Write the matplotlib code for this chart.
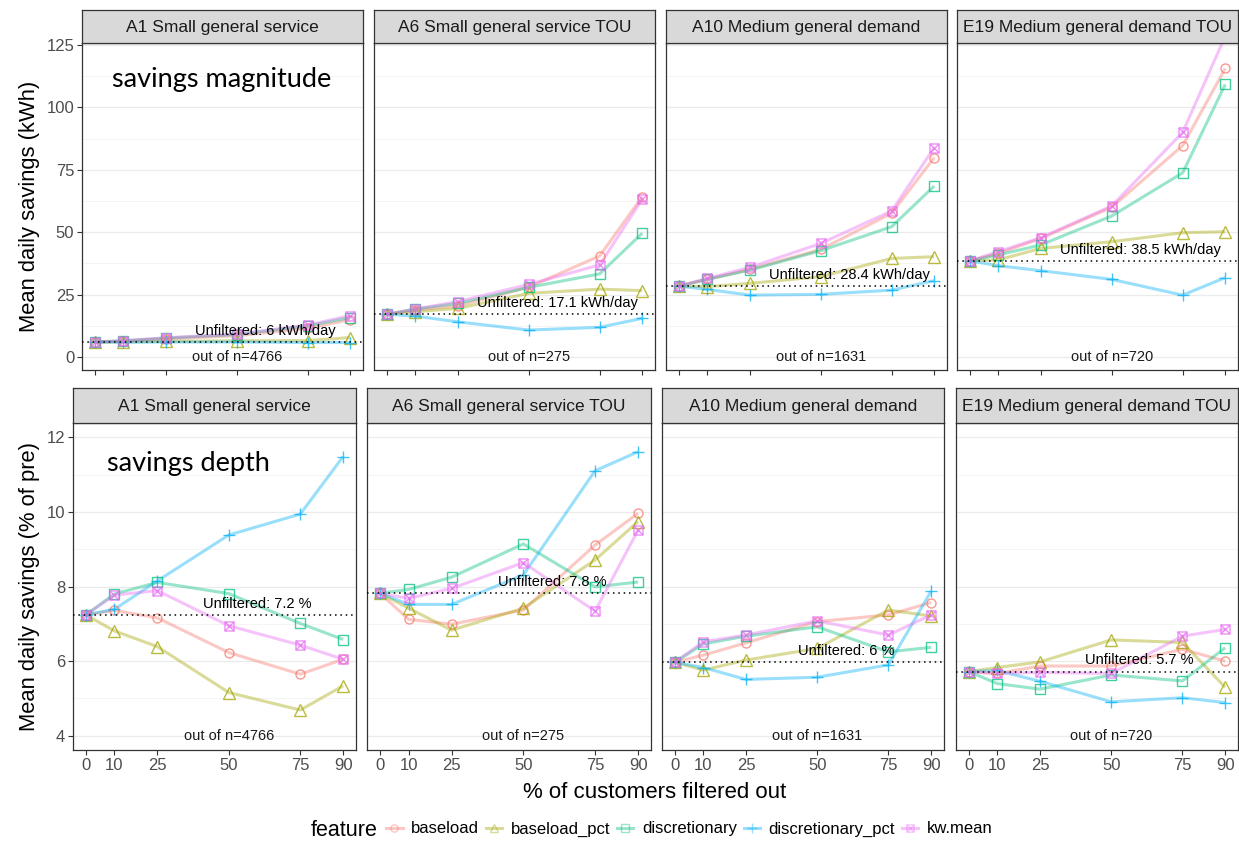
import numpy as np
import matplotlib
matplotlib.use("Agg")
import matplotlib.pyplot as plt
from matplotlib.path import Path
from matplotlib.lines import Line2D

# ---- data ----
pct = [0, 10, 25, 50, 75, 90]
tariffs = ['A1 Small general service', 'A6 Small general service TOU',
           'A10 Medium general demand', 'E19 Medium general demand TOU']
n_customers = [4766, 275, 1631, 720]
features = ['baseload', 'baseload_pct', 'discretionary', 'discretionary_pct', 'kw.mean']

mag_unfiltered = [6.0, 17.1, 28.4, 38.5]
depth_unfiltered = [7.24, 7.82, 5.97, 5.72]

# savings magnitude (kWh/day), one row per tariff
mag_baseload = [
    [6.0, 6.3, 7.3, 8.5, 11.5, 15.0],
    [17.1, 18.8, 20.5, 28.0, 40.5, 64.2],
    [28.4, 31.1, 35.1, 43.1, 57.6, 79.9],
    [38.5, 41.5, 47.5, 60.0, 84.7, 115.6]]
mag_baseload_pct = [
    [6.0, 6.1, 6.3, 6.5, 6.6, 7.8],
    [17.1, 18.1, 19.5, 25.5, 27.2, 26.6],
    [28.4, 28.2, 29.5, 32.2, 39.5, 40.2],
    [38.5, 38.9, 43.5, 46.2, 49.8, 50.2]]
mag_discretionary = [
    [6.0, 6.5, 7.6, 9.0, 12.5, 15.8],
    [17.1, 19.2, 21.5, 27.9, 33.3, 49.6],
    [28.4, 31.1, 34.8, 42.6, 52.2, 68.5],
    [38.5, 40.9, 44.9, 56.5, 73.8, 109.2]]
mag_discretionary_pct = [
    [6.0, 5.9, 6.0, 6.0, 5.8, 5.8],
    [17.1, 16.4, 14.1, 10.8, 11.9, 15.5],
    [28.4, 27.1, 24.8, 25.1, 26.8, 30.6],
    [38.5, 36.6, 34.6, 31.1, 24.8, 31.8]]
mag_kw_mean = [
    [6.0, 6.5, 7.7, 9.2, 12.8, 16.6],
    [17.1, 19.2, 22.2, 29.1, 36.9, 63.2],
    [28.4, 31.5, 35.9, 45.5, 58.5, 83.9],
    [38.5, 42.2, 47.8, 60.5, 90.0, 128.5]]

# savings depth (% of pre)
dep_baseload = [
    [7.24, 7.36, 7.16, 6.23, 5.65, 6.05],
    [7.82, 7.12, 6.99, 7.37, 9.11, 9.96],
    [5.97, 6.16, 6.49, 7.06, 7.24, 7.57],
    [5.72, 5.67, 5.87, 5.87, 6.32, 6.00]]
dep_baseload_pct = [
    [7.24, 6.81, 6.39, 5.16, 4.69, 5.34],
    [7.82, 7.42, 6.83, 7.42, 8.71, 9.74],
    [5.97, 5.76, 6.03, 6.34, 7.37, 7.21],
    [5.72, 5.83, 5.98, 6.57, 6.50, 5.30]]
dep_discretionary = [
    [7.24, 7.80, 8.11, 7.81, 7.01, 6.58],
    [7.82, 7.92, 8.25, 9.14, 7.99, 8.12],
    [5.97, 6.46, 6.67, 6.92, 6.25, 6.37],
    [5.72, 5.40, 5.25, 5.63, 5.47, 6.36]]
dep_discretionary_pct = [
    [7.24, 7.39, 8.15, 9.38, 9.94, 11.48],
    [7.82, 7.52, 7.52, 8.31, 11.10, 11.61],
    [5.97, 5.83, 5.51, 5.57, 5.90, 7.88],
    [5.72, 5.75, 5.46, 4.91, 5.02, 4.89]]
dep_kw_mean = [
    [7.24, 7.77, 7.89, 6.95, 6.43, 6.05],
    [7.82, 7.68, 7.95, 8.64, 7.34, 9.51],
    [5.97, 6.52, 6.70, 7.08, 6.70, 7.24],
    [5.72, 5.67, 5.70, 5.67, 6.67, 6.85]]

mag_series = [mag_baseload, mag_baseload_pct, mag_discretionary, mag_discretionary_pct, mag_kw_mean]
dep_series = [dep_baseload, dep_baseload_pct, dep_discretionary, dep_discretionary_pct, dep_kw_mean]

# ---- style ----
colors = ['#F8766D', '#A3A500', '#00BF7D', '#00B0F6', '#E76BF3']
boxx = Path([(-1, -1), (1, -1), (1, 1), (-1, 1), (-1, -1), (-1, -1), (1, 1), (-1, 1), (1, -1)],
            [Path.MOVETO, Path.LINETO, Path.LINETO, Path.LINETO, Path.CLOSEPOLY,
             Path.MOVETO, Path.LINETO, Path.MOVETO, Path.LINETO])
markers = ['o', '^', 's', '+', boxx]
msizes = [6.5, 8, 6.5, 9, 6.5]

plt.rcParams['font.family'] = ['Liberation Sans', 'DejaVu Sans']
W, H = 1239, 846
fig = plt.figure(figsize=(W / 100, H / 100), dpi=100)


def px_axes(x0, y0, x1, y1):
    return fig.add_axes([x0 / W, 1 - y1 / H, (x1 - x0) / W, (y1 - y0) / H])


def draw_row(series, unfiltered, xs, y_strip, y_top, y_bot, ylim, yticks, yminor,
             unit, ylabel, bottom_labels):
    for i, (x0, x1) in enumerate(xs):
        ax = px_axes(x0, y_top, x1, y_bot)
        for j, s in enumerate(series):
            ax.plot(pct, s[i], color=colors[j], lw=2.2, alpha=0.4, zorder=2,
                    solid_capstyle='butt')
            ax.plot(pct, s[i], ls='none', marker=markers[j], ms=msizes[j],
                    mfc='none', mec=colors[j], mew=1.0, alpha=0.75, zorder=3)
        u = unfiltered[i]
        ax.axhline(u, color='black', lw=1.1, dashes=(1, 2.5), zorder=4)
        ax.annotate(f"Unfiltered: {round(u, 1):g}{unit}", (60, u), xytext=(0, 8),
                    textcoords='offset points', ha='center', va='center',
                    fontsize=10.5, color='black', zorder=5)
        ax.text(50, yticks[0], f"out of n={n_customers[i]}", ha='center', va='center',
                fontsize=10.5, color='#1A1A1A', zorder=5)
        ax.set_xlim(-4.5, 94.5)
        ax.set_ylim(*ylim)
        ax.set_xticks(pct)
        ax.set_yticks(yticks)
        ax.set_yticks(yminor, minor=True)
        ax.grid(True, axis='y', which='major', color='#EBEBEB', lw=0.9, zorder=0)
        ax.grid(True, axis='y', which='minor', color='#F2F2F2', lw=0.6, zorder=0)
        ax.set_axisbelow(True)
        for sp in ax.spines.values():
            sp.set_color('#333333')
            sp.set_linewidth(0.9)
        ax.tick_params(axis='both', which='major', length=3.5, width=0.8, color='#333333',
                       labelcolor='#4D4D4D', labelsize=12, pad=2)
        ax.tick_params(axis='y', which='minor', length=0)
        ax.tick_params(axis='x', labelbottom=bottom_labels)
        if i == 0:
            ax.set_ylabel(ylabel, fontsize=15.8, color='black', labelpad=5)
        else:
            ax.tick_params(axis='y', left=False, labelleft=False)
        # facet strip
        st = px_axes(x0, y_strip, x1, y_top)
        st.set_facecolor('#D9D9D9')
        st.set_xticks([])
        st.set_yticks([])
        for sp in st.spines.values():
            sp.set_color('#333333')
            sp.set_linewidth(0.9)
        st.text(0.5, 0.47, tariffs[i], ha='center', va='center', fontsize=12.5,
                color='#1A1A1A', transform=st.transAxes)


top_xs = [(82, 363), (374, 655), (666, 947), (957, 1238)]
bot_xs = [(73, 356), (367, 651), (662, 944), (956, 1238)]

draw_row(mag_series, mag_unfiltered, top_xs, 10, 43, 370, (-5.2, 125.8),
         [0, 25, 50, 75, 100, 125], [12.5, 37.5, 62.5, 87.5, 112.5],
         ' kWh/day', 'Mean daily savings (kWh)', False)
draw_row(dep_series, depth_unfiltered, bot_xs, 388, 423, 750, (3.62, 12.38),
         [4, 6, 8, 10, 12], [5, 7, 9, 11],
         ' %', 'Mean daily savings (% of pre)', True)

fig.text(655 / W, 1 - 792 / H, '% of customers filtered out', ha='center', va='center',
         fontsize=16, color='black')

# overlay titles
fig.text(112 / W, 1 - 87 / H, 'savings magnitude', ha='left', va='baseline',
         fontsize=19.5, family=['Lato', 'DejaVu Sans'], color='black')
fig.text(107 / W, 1 - 471 / H, 'savings depth', ha='left', va='baseline',
         fontsize=19.5, family=['Lato', 'DejaVu Sans'], color='black')

# legend
handles = [Line2D([0], [0], color=c, lw=2.2, alpha=0.4, marker=m, ms=ms * 0.8, mfc='none',
                  mec=c, mew=1.0) for c, m, ms in zip(colors, markers, msizes)]
fig.text(311 / W, 1 - 830 / H, 'feature', ha='left', va='center', fontsize=15.5)
fig.legend(handles, features, loc='center left', bbox_to_anchor=(386 / W, 1 - 829 / H),
           ncol=5, frameon=False, fontsize=12, handlelength=1.0, handletextpad=0.5,
           columnspacing=0.4, borderpad=0, borderaxespad=0)

fig.savefig('out.png', dpi=100)
